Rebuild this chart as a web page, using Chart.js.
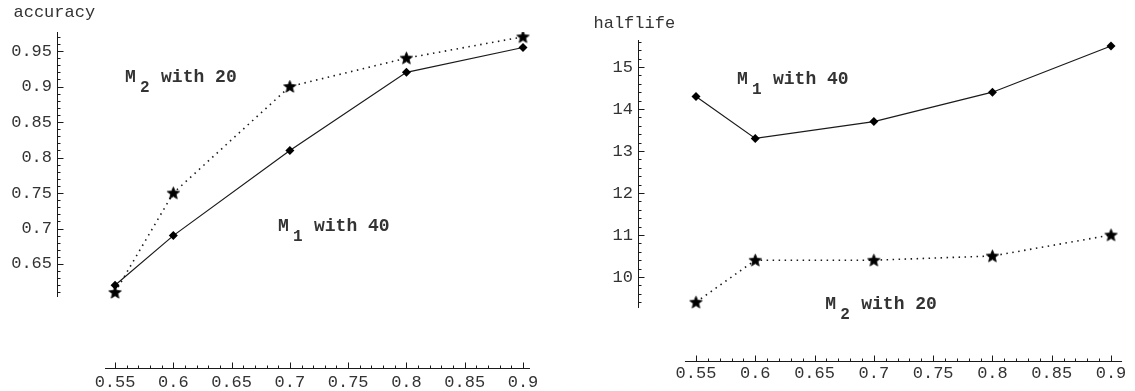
<!DOCTYPE html>
<html>
<head>
<meta charset="utf-8">
<script src="https://cdn.jsdelivr.net/npm/chart.js@4.4.0/dist/chart.umd.min.js"></script>
<style>
    html, body { margin: 0; padding: 0; background: #fff; }
    .wrap { display: flex; width: 1135px; height: 391px; }
    .panel { height: 391px; }
</style>
</head>
<body>
<div class="wrap">
    <div class="panel"><canvas id="accuracy-chart" width="567" height="391"></canvas></div>
    <div class="panel"><canvas id="halflife-chart" width="568" height="391"></canvas></div>
</div>
<script>
// thresholds on the x axis, shared by both panels
const thresholds = [0.55, 0.6, 0.7, 0.8, 0.9];

const accuracyM1 = [0.62, 0.69, 0.81, 0.92, 0.955];
const accuracyM2 = [0.61, 0.75, 0.9, 0.94, 0.97];

const halflifeM1 = [14.3, 13.3, 13.7, 14.4, 15.5];
const halflifeM2 = [9.4, 10.4, 10.4, 10.5, 11.0];

const xTickValues = [0.55, 0.6, 0.65, 0.7, 0.75, 0.8, 0.85, 0.9];
const accuracyTickValues = [0.65, 0.7, 0.75, 0.8, 0.85, 0.9, 0.95];
const halflifeTickValues = [10, 11, 12, 13, 14, 15];

const MONO = "'Liberation Mono', 'DejaVu Sans Mono', monospace";
const INK = '#1a1a1a';

// filled five point star for the M2 markers
const starImg = document.createElement('canvas');
starImg.width = 15;
starImg.height = 15;
(() => {
    const c = starImg.getContext('2d');
    c.fillStyle = '#000';
    c.strokeStyle = '#000';
    c.lineWidth = 0.8;
    c.beginPath();
    for (let i = 0; i < 10; i++) {
        const r = i % 2 === 0 ? 6.5 : 2.9;
        const ang = -Math.PI / 2 + (i * Math.PI) / 5;
        const px = 7.5 + r * Math.cos(ang);
        const py = 7.9 + r * Math.sin(ang);
        if (i === 0) c.moveTo(px, py);
        else c.lineTo(px, py);
    }
    c.closePath();
    c.fill();
    c.stroke();
})();

const toPoints = (ys) => thresholds.map((x, i) => ({ x, y: ys[i] }));

// mathematica-like detached axes with inward ticks, titles and curve labels
const mathAxes = {
    id: 'mathAxes',
    afterDraw(chart, args, o) {
        const { ctx, chartArea: a } = chart;
        const x = chart.scales.x;
        const y = chart.scales.y;
        ctx.save();
        ctx.strokeStyle = INK;
        ctx.lineWidth = 1;
        const ax = Math.round(a.left) + 0.5;
        const ay = Math.round(a.bottom) + 0.5;
        ctx.beginPath();
        ctx.moveTo(ax, y.getPixelForValue(o.yLine[0]));
        ctx.lineTo(ax, y.getPixelForValue(o.yLine[1]));
        ctx.moveTo(x.getPixelForValue(o.xLine[0]), ay);
        ctx.lineTo(x.getPixelForValue(o.xLine[1]), ay);

        const isMajor = (v, list) => list.some((t) => Math.abs(t - v) < 1e-6);
        const minor = (lo, hi, step) => {
            const out = [];
            for (let k = Math.ceil(lo / step - 1e-6); k <= Math.floor(hi / step + 1e-6); k++) out.push(k * step);
            return out;
        };
        minor(o.yLine[0], o.yLine[1], o.yMinor).forEach((v) => {
            const p = Math.round(y.getPixelForValue(v)) + 0.5;
            ctx.moveTo(ax, p);
            ctx.lineTo(ax + (isMajor(v, o.yTicks) ? 6 : 3), p);
        });
        minor(o.xLine[0], o.xLine[1], 0.01).forEach((v) => {
            const p = Math.round(x.getPixelForValue(v)) + 0.5;
            ctx.moveTo(p, ay);
            ctx.lineTo(p, ay - (isMajor(v, xTickValues) ? 6 : 3));
        });
        ctx.stroke();

        ctx.fillStyle = '#333';
        ctx.font = `17px ${MONO}`;
        ctx.textBaseline = 'alphabetic';
        ctx.fillText(o.title, ax + o.titleOffset[0], a.top + o.titleOffset[1]);

        o.labels.forEach((l) => {
            const px = x.getPixelForValue(l.x);
            const py = y.getPixelForValue(l.y);
            ctx.font = `bold 18px ${MONO}`;
            ctx.fillText('M', px, py);
            ctx.font = `bold 16px ${MONO}`;
            ctx.fillText(l.sub, px + 15, py + 10);
            ctx.font = `bold 18px ${MONO}`;
            ctx.fillText(l.text, px + 36, py);
        });
        ctx.restore();
    },
};

function makeChart(id, cfg) {
    return new Chart(document.getElementById(id), {
        type: 'line',
        data: {
            datasets: [
                {
                    data: toPoints(cfg.m1),
                    borderColor: INK,
                    borderWidth: 1.2,
                    backgroundColor: '#000',
                    pointStyle: 'rectRot',
                    pointRadius: 4.5,
                    pointBorderWidth: 0,
                },
                {
                    data: toPoints(cfg.m2),
                    borderColor: INK,
                    borderWidth: 1.6,
                    borderDash: [1.5, 4.5],
                    backgroundColor: '#000',
                    pointStyle: starImg,
                },
            ],
        },
        options: {
            responsive: false,
            animation: false,
            layout: { padding: cfg.padding },
            plugins: {
                legend: { display: false },
                tooltip: { enabled: false },
                mathAxes: cfg.axes,
            },
            scales: {
                x: {
                    type: 'linear',
                    min: cfg.xRange[0],
                    max: cfg.xRange[1],
                    grid: { display: false, drawTicks: false },
                    border: { display: false },
                    afterBuildTicks: (s) => { s.ticks = xTickValues.map((value) => ({ value })); },
                    afterFit: (s) => { s.height = cfg.xHeight; },
                    ticks: {
                        autoSkip: false,
                        maxRotation: 0,
                        padding: cfg.xPad,
                        color: '#333',
                        font: { family: MONO, size: 17 },
                        callback: (v) => String(+v.toFixed(2)),
                    },
                },
                y: {
                    type: 'linear',
                    min: cfg.yRange[0],
                    max: cfg.yRange[1],
                    grid: { display: false, drawTicks: false },
                    border: { display: false },
                    afterBuildTicks: (s) => { s.ticks = cfg.yTicks.map((value) => ({ value })); },
                    afterFit: (s) => { s.width = cfg.yWidth; },
                    ticks: {
                        padding: 5,
                        color: '#333',
                        font: { family: MONO, size: 17 },
                        callback: (v) => String(+v.toFixed(2)),
                    },
                },
            },
        },
        plugins: [mathAxes],
    });
}

makeChart('accuracy-chart', {
    m1: accuracyM1,
    m2: accuracyM2,
    yTicks: accuracyTickValues,
    padding: { top: 32, right: 27, left: 0, bottom: 0 },
    xRange: [0.5002, 0.9146],
    yRange: [0.5035, 0.9768],
    xHeight: 23,
    yWidth: 57,
    xPad: 4,
    axes: {
        yLine: [0.6035, 0.9768],
        xLine: [0.5414, 0.906],
        yTicks: accuracyTickValues,
        yMinor: 0.01,
        title: 'accuracy',
        titleOffset: [-44, -15],
        labels: [
            { x: 0.5586, y: 0.907, sub: '2', text: 'with 20' },
            { x: 0.6898, y: 0.6958, sub: '1', text: 'with 40' },
        ],
    },
});

makeChart('halflife-chart', {
    m1: halflifeM1,
    m2: halflifeM2,
    yTicks: halflifeTickValues,
    padding: { top: 40, right: 10, left: 0, bottom: 0 },
    xRange: [0.5011, 0.9118],
    yRange: [8.0, 15.643],
    xHeight: 30,
    yWidth: 71,
    xPad: 2,
    axes: {
        yLine: [9.262, 15.643],
        xLine: [0.5407, 0.9093],
        yTicks: halflifeTickValues,
        yMinor: 0.2,
        title: 'halflife',
        titleOffset: [-45, -12],
        labels: [
            { x: 0.5846, y: 14.595, sub: '1', text: 'with 40' },
            { x: 0.659, y: 9.238, sub: '2', text: 'with 20' },
        ],
    },
});
</script>
</body>
</html>
